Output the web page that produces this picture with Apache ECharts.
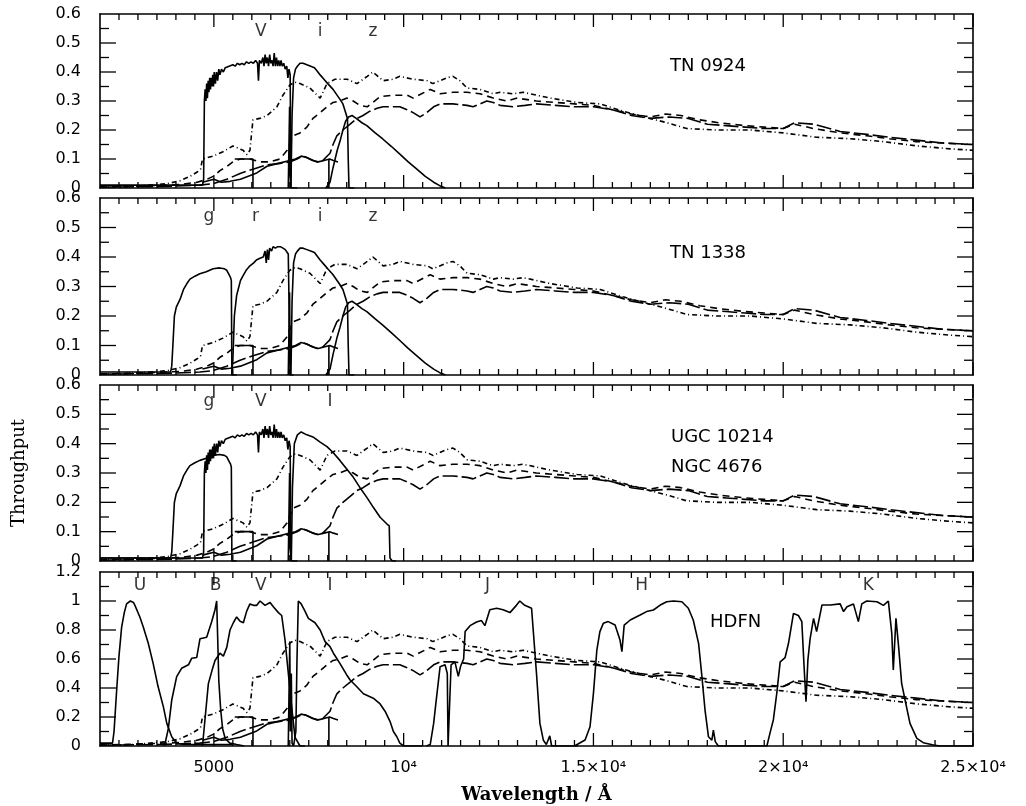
<!DOCTYPE html>
<html><head><meta charset="utf-8">
<script src="https://cdn.jsdelivr.net/npm/echarts@6/dist/echarts.min.js"></script>
<style>html,body{margin:0;padding:0;background:#fff}#c{width:1026px;height:806px}</style>
</head><body><div id="c"></div>
<script>
// ---------- DATA (wavelength in Angstrom, throughput) ----------
const xMajorTicks = [5000, 10000, 15000, 20000, 25000];
const xTickLabels = ['5000', '10⁴', '1.5×10⁴', '2×10⁴', '2.5×10⁴'];

// galaxy templates (panels 1-3 scale; panel 4 uses a 0-0.6 hidden axis)
const sedDotted = [[2000,0.003],[2870,0.005],[3320,0.01],[3770,0.015],[4110,0.025],[4370,0.04],[4560,0.055],[4650,0.065],[4700,0.1],[4980,0.11],[5240,0.125],[5500,0.145],[5770,0.13],[5870,0.115],[5950,0.13],[6030,0.235],[6210,0.24],[6400,0.25],[6660,0.28],[6820,0.32],[7000,0.355],[7140,0.365],[7270,0.36],[7530,0.345],[7800,0.31],[7980,0.36],[8190,0.375],[8510,0.375],[8770,0.36],[9040,0.385],[9190,0.40],[9460,0.37],[9720,0.375],[9900,0.385],[10250,0.375],[10620,0.37],[10770,0.36],[11140,0.38],[11300,0.385],[11480,0.37],[11670,0.345],[12010,0.34],[12360,0.325],[12540,0.33],[12880,0.325],[13150,0.33],[13860,0.31],[14570,0.295],[15175,0.29],[15780,0.265],[16490,0.24],[16940,0.225],[17460,0.205],[18260,0.2],[19130,0.2],[20000,0.19],[20880,0.175],[21760,0.17],[22630,0.16],[23530,0.145],[24400,0.135],[25000,0.13]];
const sedDashed = [[2000,0.003],[3320,0.008],[4110,0.012],[4560,0.02],[4820,0.03],[4980,0.04],[5160,0.06],[5350,0.075],[5500,0.09],[5690,0.1],[5950,0.1],[6210,0.09],[6480,0.09],[6740,0.1],[6930,0.13],[7080,0.18],[7270,0.19],[7450,0.21],[7610,0.24],[7800,0.26],[7980,0.28],[8140,0.295],[8320,0.30],[8510,0.31],[8670,0.30],[8850,0.285],[9040,0.28],[9380,0.315],[9720,0.32],[10090,0.32],[10250,0.31],[10700,0.34],[10960,0.325],[11300,0.33],[11670,0.33],[12010,0.325],[12360,0.31],[12720,0.30],[12990,0.31],[13500,0.30],[14000,0.295],[14500,0.29],[15000,0.285],[15500,0.27],[16000,0.255],[16500,0.245],[16900,0.255],[17300,0.25],[17800,0.235],[18300,0.225],[19000,0.215],[19500,0.21],[20000,0.205],[20300,0.22],[20800,0.205],[21500,0.19],[22200,0.18],[22800,0.17],[23500,0.16],[24200,0.155],[25000,0.15]];
const sedLongDash = [[2000,0.003],[3580,0.005],[4630,0.01],[4980,0.015],[5340,0.03],[5690,0.05],[6030,0.065],[6400,0.08],[6740,0.085],[7000,0.09],[7190,0.10],[7350,0.11],[7530,0.10],[7720,0.09],[7870,0.095],[8060,0.12],[8140,0.15],[8240,0.18],[8400,0.20],[8590,0.22],[8770,0.24],[8930,0.25],[9110,0.265],[9300,0.275],[9460,0.28],[9720,0.28],[9900,0.28],[10090,0.27],[10250,0.26],[10430,0.245],[10610,0.26],[10790,0.28],[10960,0.29],[11300,0.29],[11670,0.285],[11830,0.28],[12010,0.29],[12190,0.30],[12360,0.295],[12540,0.285],[12880,0.28],[13200,0.285],[13500,0.29],[14000,0.285],[14500,0.28],[15000,0.28],[15500,0.27],[16000,0.25],[16500,0.24],[17000,0.245],[17500,0.24],[18000,0.22],[18500,0.215],[19000,0.21],[19500,0.205],[20000,0.205],[20300,0.225],[20800,0.22],[21500,0.195],[22200,0.185],[22800,0.175],[23500,0.165],[24200,0.155],[25000,0.15]];
const sedSolid = [[4700,0.02],[5000,0.03],[5200,0.02],[5430,0.023],[5700,0.03],[6130,0.052],[6400,0.075],[6700,0.085],[7000,0.095],[7150,0.1],[7300,0.11],[7450,0.105],[7600,0.095],[7750,0.09],[7900,0.095],[8050,0.1],[8150,0.095],[8270,0.09]];
const featureA = [[5550,0.1],[6030,0.1],[6030,0]];
const featureB = [[8030,0],[8030,0.1]];

// filters, panels 1-3
const filterV = [[2000,0.01],[4700,0.01],[4730,0.03],[4750,0.30],[4770,0.34],[4790,0.30],[4810,0.36],[4830,0.31],[4850,0.37],[4870,0.33],[4890,0.38],[4910,0.34],[4930,0.38],[4950,0.35],[4970,0.39],[4990,0.35],[5010,0.40],[5040,0.36],[5070,0.40],[5100,0.37],[5130,0.41],[5160,0.39],[5200,0.41],[5250,0.40],[5300,0.415],[5350,0.41],[5400,0.42],[5450,0.415],[5500,0.425],[5560,0.42],[5620,0.43],[5680,0.425],[5740,0.43],[5800,0.425],[5860,0.435],[5920,0.43],[5980,0.435],[6040,0.43],[6100,0.44],[6150,0.43],[6175,0.37],[6200,0.44],[6250,0.43],[6290,0.45],[6320,0.42],[6350,0.46],[6380,0.43],[6410,0.45],[6440,0.42],[6470,0.46],[6500,0.43],[6530,0.44],[6560,0.42],[6590,0.465],[6620,0.42],[6650,0.45],[6680,0.42],[6710,0.44],[6740,0.42],[6770,0.44],[6800,0.42],[6840,0.43],[6880,0.41],[6920,0.42],[6950,0.38],[6980,0.41],[7010,0.39],[7030,0.0],[7200,0.0]];
const filterIsloan = [[6960,0],[6985,0],[6995,0.28],[7005,0.05],[7030,0],[7060,0.25],[7100,0.38],[7150,0.41],[7200,0.42],[7270,0.43],[7350,0.43],[7450,0.425],[7550,0.42],[7650,0.415],[7710,0.405],[7800,0.39],[7900,0.375],[8000,0.36],[8140,0.34],[8300,0.31],[8400,0.29],[8460,0.265],[8520,0.24],[8540,0.1],[8560,0.0],[8700,0]];
const filterZ = [[7950,0],[8000,0.005],[8060,0.02],[8140,0.07],[8250,0.13],[8320,0.16],[8400,0.2],[8470,0.23],[8550,0.245],[8640,0.25],[8750,0.24],[8900,0.225],[9030,0.215],[9250,0.19],[9450,0.169],[9680,0.143],[9900,0.117],[10120,0.09],[10340,0.066],[10570,0.04],[10790,0.02],[10950,0.008],[11100,0]];
const filterG = [[2000,0.01],[3860,0.01],[3890,0.03],[3920,0.1],[3960,0.2],[4010,0.23],[4110,0.257],[4200,0.29],[4290,0.31],[4370,0.325],[4500,0.335],[4630,0.343],[4800,0.35],[4980,0.36],[5150,0.363],[5280,0.36],[5340,0.355],[5400,0.34],[5440,0.33],[5460,0.32],[5475,0.0],[5600,0]];
const filterR = [[5470,0],[5500,0.05],[5540,0.2],[5600,0.27],[5640,0.29],[5700,0.32],[5770,0.337],[5850,0.355],[5950,0.37],[6050,0.38],[6120,0.39],[6200,0.395],[6300,0.40],[6350,0.42],[6380,0.38],[6410,0.425],[6440,0.39],[6470,0.43],[6520,0.42],[6560,0.435],[6620,0.43],[6680,0.435],[6750,0.435],[6820,0.43],[6880,0.425],[6920,0.42],[6960,0.41],[6990,0.405],[7010,0],[7100,0]];
const filterIwide = [[6960,0],[6985,0],[6995,0.3],[7005,0.05],[7040,0],[7070,0.25],[7120,0.40],[7200,0.43],[7300,0.44],[7450,0.43],[7610,0.423],[7800,0.405],[7980,0.39],[8140,0.37],[8320,0.343],[8500,0.314],[8670,0.286],[8850,0.25],[9030,0.217],[9200,0.183],[9380,0.149],[9560,0.126],[9620,0.12],[9640,0.01],[9700,0],[9800,0]];

// filters, panel 4 (HDFN, normalised to 1)
const filterU4 = [[2000,0.02],[2330,0.02],[2370,0.1],[2440,0.39],[2500,0.62],[2570,0.82],[2640,0.92],[2700,0.98],[2800,1.0],[2880,0.99],[2920,0.97],[3050,0.89],[3140,0.82],[3270,0.71],[3400,0.57],[3530,0.41],[3670,0.27],[3760,0.156],[3890,0.064],[4020,0.019],[4200,0.01],[5500,0.01]];
const filterB4 = [[3700,0],[3800,0.12],[3890,0.317],[4020,0.478],[4150,0.536],[4330,0.56],[4415,0.605],[4547,0.61],[4635,0.74],[4810,0.75],[4942,0.857],[5030,0.94],[5074,1.0],[5100,0.75],[5130,0.45],[5180,0.25],[5230,0.12],[5300,0.05],[5420,0.02],[5600,0.01],[5800,0]];
const filterV4 = [[4700,0],[4720,0],[4790,0.25],[4855,0.43],[4950,0.52],[5030,0.59],[5160,0.64],[5250,0.62],[5340,0.68],[5425,0.8],[5513,0.85],[5600,0.89],[5690,0.86],[5777,0.85],[5865,0.93],[5950,0.98],[6040,0.97],[6130,0.97],[6216,1.0],[6348,0.97],[6480,0.99],[6567,0.96],[6700,0.92],[6787,0.9],[6875,0.73],[6962,0.5],[7050,0.27],[7138,0.06],[7270,0],[7400,0]];
const filterI4 = [[6960,0],[6990,0],[7000,0.72],[7015,0.1],[7040,0.5],[7060,0.02],[7100,0],[7160,0.1],[7190,0.6],[7225,1.0],[7300,0.98],[7400,0.93],[7490,0.88],[7665,0.85],[7800,0.8],[7930,0.72],[8060,0.685],[8150,0.64],[8320,0.57],[8500,0.49],[8590,0.455],[8760,0.41],[8940,0.36],[9200,0.33],[9380,0.29],[9510,0.24],[9640,0.17],[9730,0.1],[9820,0.064],[9900,0.02],[9950,0.01],[10000,0],[10500,0]];
const filterJ4 = [[10600,0],[10700,0.01],[10790,0.156],[10860,0.32],[10960,0.547],[11090,0.56],[11150,0.5],[11170,0],[11210,0],[11250,0.56],[11350,0.58],[11440,0.48],[11500,0.55],[11580,0.6],[11620,0.79],[11750,0.83],[11920,0.855],[12050,0.865],[12140,0.83],[12270,0.94],[12450,0.95],[12620,0.94],[12800,0.92],[12970,0.97],[13060,1.0],[13190,0.97],[13370,0.95],[13420,0.94],[13500,0.5],[13590,0.156],[13680,0.04],[13760,0.01],[13850,0.07],[13900,0],[14600,0]];
const filterH4 = [[14500,0],[14780,0.041],[14910,0.133],[15000,0.363],[15090,0.662],[15170,0.789],[15260,0.846],[15390,0.858],[15570,0.834],[15700,0.731],[15750,0.651],[15810,0.834],[15970,0.869],[16230,0.903],[16400,0.927],[16580,0.938],[16760,0.972],[16930,0.995],[17110,1.0],[17330,0.995],[17500,0.95],[17630,0.869],[17770,0.708],[17850,0.501],[17940,0.248],[18030,0.064],[18120,0.041],[18160,0.11],[18210,0.03],[18290,0],[19500,0]];
const filterK4 = [[19500,0],[19570,0],[19650,0.087],[19740,0.18],[19830,0.363],[19920,0.58],[20050,0.61],[20140,0.71],[20270,0.914],[20400,0.9],[20490,0.858],[20550,0.547],[20600,0.305],[20650,0.593],[20710,0.743],[20800,0.88],[20880,0.789],[21020,0.972],[21240,0.972],[21500,0.98],[21590,0.927],[21680,0.96],[21850,0.98],[21980,0.858],[22070,0.98],[22200,1.0],[22470,0.995],[22640,0.97],[22770,1.0],[22860,0.777],[22900,0.524],[22970,0.88],[23040,0.685],[23120,0.432],[23210,0.317],[23340,0.156],[23520,0.053],[23690,0.023],[23960,0.007],[24130,0],[25000,0]];

// filter names written above each panel: [label, wavelength]
const bandsP1 = [['V',6240],['i',7800],['z',9190]];
const bandsP2 = [['g',4872],['r',6098],['i',7800],['z',9190]];
const bandsP3 = [['g',4872],['V',6240],['I',8060]];
const bandsP4 = [['U',3054],['B',5043],['V',6240],['I',8060],['J',12210],['H',16270],['K',22245]];
const panelNames = [['TN 0924'],['TN 1338'],['UGC 10214','NGC 4676'],['HDFN']];

// ---------- LAYOUT / STYLE ----------
const SANS = '"DejaVu Sans", sans-serif';
const SERIF = '"DejaVu Serif", serif';
const BLACK = '#000';
const X_MIN = 2000, X_MAX = 25000;
const gridsPx = [[14,174],[198,177],[385,176],[572,174]];
const grid = gridsPx.map(g => ({left:100, width:873, top:g[0], height:g[1]}));
const xMinor = []; for (let v = 2500; v < 25000; v += 500) xMinor.push(v);

const chart = echarts.init(document.getElementById('c'), null, {renderer:'canvas'});
const xAxis = [], yAxis = [];
gridsPx.forEach((g, p) => {
  const last = p === 3;
  const axLine = {show:true, onZero:false, lineStyle:{color:BLACK, width:1.6}};
  xAxis.push({type:'value', gridIndex:p, min:X_MIN, max:X_MAX, position:'bottom', splitLine:{show:false},
    axisLine:axLine, axisTick:{show:false},
    axisLabel:{show:last, customValues:xMajorTicks, formatter:v => xTickLabels[xMajorTicks.indexOf(v)],
      margin:14, color:BLACK, fontFamily:SANS, fontSize:16},
    name: last ? 'Wavelength / Å' : '', nameLocation:'middle', nameGap:40,
    nameTextStyle:{fontFamily:SERIF, fontWeight:'bold', fontSize:18, color:BLACK}});
  xAxis.push({type:'value', gridIndex:p, min:X_MIN, max:X_MAX, position:'top', splitLine:{show:false},
    axisLine:axLine, axisTick:{show:false}, axisLabel:{show:false}});
  const ymax = last ? 1.2 : 0.6, yint = last ? 0.2 : 0.1;
  yAxis.push({type:'value', gridIndex:p, min:0, max:ymax, interval:yint, position:'left', splitLine:{show:false},
    axisLine:axLine, axisTick:{show:false},
    axisLabel:{margin:19, color:BLACK, fontFamily:SANS, fontSize:16},
    name: p === 2 ? 'Throughput' : '', nameLocation:'middle', nameGap:72,
    nameTextStyle:{fontFamily:SERIF, fontSize:18, color:BLACK}});
  yAxis.push({type:'value', gridIndex:p, min:0, max:ymax, interval:yint, position:'right', splitLine:{show:false},
    axisLine:axLine, axisTick:{show:false}, axisLabel:{show:false}});
});
yAxis.push({type:'value', gridIndex:3, min:0, max:0.6, show:false}); // index 8: template scale in panel 4

const series = [];
// inward ticks on all four sides, placed by the axes' own scales
gridsPx.forEach((g, p) => {
  const ymax = p === 3 ? 1.2 : 0.6, ystep = ymax / 12;
  const ticks = [];
  xMajorTicks.forEach(v => ticks.push([v, 0, 13, 0]));
  xMinor.forEach(v => { if (xMajorTicks.indexOf(v) < 0) ticks.push([v, 0, 6, 0]); });
  for (let k = 1; k < 12; k++) ticks.push([X_MIN, +(k * ystep).toFixed(3), k % 2 === 0 ? 16 : 9, 1]);
  series.push({type:'custom', coordinateSystem:'cartesian2d', xAxisIndex:2*p, yAxisIndex:2*p, silent:true,
    animation:false, clip:false, data:ticks,
    renderItem: function(params, api) {
      const len = api.value(2), kind = api.value(3);
      const st = {stroke:BLACK, lineWidth:1.3};
      if (kind === 0) {
        const b = api.coord([api.value(0), 0]), t = api.coord([api.value(0), ymax]);
        return {type:'group', children:[
          {type:'line', shape:{x1:b[0], y1:b[1], x2:b[0], y2:b[1] - len}, style:st},
          {type:'line', shape:{x1:t[0], y1:t[1], x2:t[0], y2:t[1] + len}, style:st}]};
      }
      const l = api.coord([X_MIN, api.value(1)]), r = api.coord([X_MAX, api.value(1)]);
      return {type:'group', children:[
        {type:'line', shape:{x1:l[0], y1:l[1], x2:l[0] + len, y2:l[1]}, style:st},
        {type:'line', shape:{x1:r[0], y1:r[1], x2:r[0] - len, y2:r[1]}, style:st}]};
    }});
});

const DOT = [5,3,1,3], DASH = [7,5], LDASH = [15,4];
function line(p, yIdx, data, dash) {
  return {type:'line', xAxisIndex:2*p, yAxisIndex:yIdx, data:data, symbol:'none', showSymbol:false,
    silent:true, animation:false, connectNulls:false,
    lineStyle:{color:BLACK, width:1.6, type:dash || 'solid'}};
}
function bands(p, yIdx, list, level) {
  return {type:'scatter', xAxisIndex:2*p, yAxisIndex:yIdx, symbolSize:1, silent:true, animation:false,
    itemStyle:{color:'rgba(0,0,0,0)'},
    label:{show:true, position:'inside', formatter:d => d.name, color:BLACK, fontFamily:SANS, fontSize:17},
    data:list.map(b => ({name:b[0], value:[b[1], level]}))};
}
function templates(p, yIdx) {
  series.push(line(p, yIdx, sedDotted, DOT), line(p, yIdx, sedDashed, DASH), line(p, yIdx, sedLongDash, LDASH),
    line(p, yIdx, sedSolid), line(p, yIdx, featureA), line(p, yIdx, featureB));
}
templates(0, 0);
series.push(line(0,0,filterV), line(0,0,filterIsloan), line(0,0,filterZ), bands(0,0,bandsP1,0.538));
templates(1, 2);
series.push(line(1,2,filterG), line(1,2,filterR), line(1,2,filterIsloan), line(1,2,filterZ), bands(1,2,bandsP2,0.536));
templates(2, 4);
series.push(line(2,4,filterG), line(2,4,filterV), line(2,4,filterIwide), bands(2,4,bandsP3,0.542));
templates(3, 8);
series.push(line(3,6,filterU4), line(3,6,filterB4), line(3,6,filterV4), line(3,6,filterI4),
  line(3,6,filterJ4), line(3,6,filterH4), line(3,6,filterK4), bands(3,6,bandsP4,1.103));

const namePos = [[670,[66]],[670,[253]],[671,[437,467]],[710,[622]]];
const graphic = [];
panelNames.forEach((names, p) => {
  names.forEach((t, k) => graphic.push({type:'text', x:namePos[p][0], y:namePos[p][1][k], silent:true,
    style:{text:t, font:'18px ' + SANS, fill:BLACK, align:'left', verticalAlign:'middle'}}));
});

chart.setOption({animation:false, backgroundColor:'#fff', grid, xAxis, yAxis, series, graphic});
</script></body></html>
